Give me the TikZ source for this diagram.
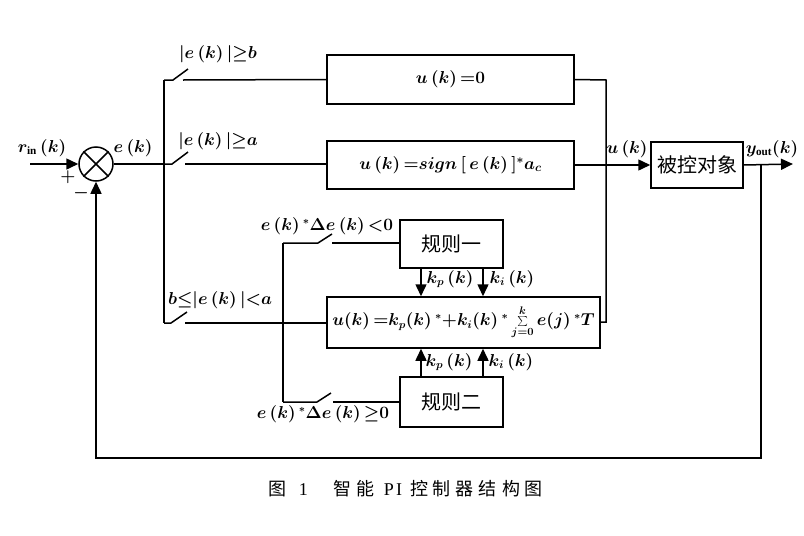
\documentclass[tikz,border=0pt]{standalone}
\usepackage{fontspec}
\setmainfont{Liberation Serif}
\newfontfamily\cjk{Noto Sans CJK SC}
\usetikzlibrary{arrows.meta}
\begin{document}
\begin{tikzpicture}[x=1pt,y=-1pt,
  line width=1.5pt,
  blk/.style={draw,line width=1.5pt,inner sep=0pt},
  lbl/.style={inner sep=0pt,font=\fontsize{16}{18}\selectfont\boldmath},
  cjkl/.style={inner sep=0pt,font=\cjk\fontsize{20}{22}\selectfont},
  arr/.style={-{Triangle[length=12pt,width=11pt]}},
  wire/.style={line width=1.5pt}]
\useasboundingbox (0,0) rectangle (804,536);
% blocks
\node[blk,minimum width=247pt,minimum height=49pt,lbl] (b1) at (450.5,79.5) {$u\,(k)\,{=}0$};
\node[blk,minimum width=247pt,minimum height=48pt,lbl,font=\fontsize{17}{19}\selectfont\boldmath] (b2) at (450.5,165) {$u\,(k)\,{=}sign\,[\,e\,(k)\,]^{*}a_c$};
\node[blk,minimum width=273pt,minimum height=51pt,lbl] (b3) at (463.5,322.5) {$u(k)\,{=}k_p(k)\,^{*}{+}k_i(k)\,^{*}\sum\limits_{j=0}^{k}e(j)\,^{*}T$};
\node[blk,minimum width=103pt,minimum height=48pt,cjkl] (r1) at (451.5,244) {规则一};
\node[blk,minimum width=103pt,minimum height=50pt,cjkl] (r2) at (451.5,402) {规则二};
\node[blk,minimum width=92pt,minimum height=46pt,cjkl] (pl) at (697,165) {被控对象};
\node[draw,circle,minimum size=34pt,inner sep=0pt,line width=1.5pt] (sum) at (96,164) {};
\draw[wire] (sum.north west) -- (sum.south east) (sum.north east) -- (sum.south west);
% coordinates
\coordinate (in) at (30,164);
\coordinate (jn) at (164,164);
\coordinate (bt) at (164,80);
\coordinate (bb) at (164,323);
\coordinate (s1a) at (173,80);  \coordinate (s1b) at (188,69);  \coordinate (s1c) at (183,80);
\coordinate (s2a) at (172,164); \coordinate (s2b) at (188,152); \coordinate (s2c) at (185,164);
\coordinate (s3a) at (171,323); \coordinate (s3b) at (187,312); \coordinate (s3c) at (185,323);
\coordinate (rv1) at (283,243); \coordinate (rv2) at (283,402);
\coordinate (s4a) at (318,243); \coordinate (s4b) at (332,234); \coordinate (s4c) at (332,243);
\coordinate (s5a) at (317,402); \coordinate (s5b) at (331,393); \coordinate (s5c) at (333,402);
\coordinate (c1) at (606,80); \coordinate (c2) at (606,322);
\coordinate (out) at (793,164);
\coordinate (fb) at (761,164); \coordinate (fb1) at (761,458); \coordinate (fb2) at (96,458);
% wires
\draw[arr] (in) -- (sum.west);
\draw[wire] (sum.east) -- (jn);
\draw[wire] (bt) -- (bb);
\draw[wire] (bt) -- (s1a) -- (s1b);
\draw[wire] (s1c) -- (b1.west);
\draw[wire] (jn) -- (s2a) -- (s2b);
\draw[wire] (s2c) -- (b2.west |- s2c);
\draw[wire] (bb) -- (s3a) -- (s3b);
\draw[wire] (s3c) -- (b3.west |- s3c);
\draw[wire] (rv1) -- (rv2);
\draw[wire] (rv1) -- (s4a) -- (s4b);
\draw[wire] (s4c) -- (r1.west |- s4c);
\draw[wire] (rv2) -- (s5a) -- (s5b);
\draw[wire] (s5c) -- (r2.west |- s5c);
\draw[wire] (b1.east) -- (c1) -- (c2) -- (b3.east |- c2);
\draw[arr] (b2.east |- pl.west) -- (pl.west);
\draw[arr] (pl.east) -- (out);
\draw[arr] (fb) -- (fb1) -- (fb2) -- (sum.south);
\draw[arr] (r1.south -| 421,0) -- (b3.north -| 421,0);
\draw[arr] (r1.south -| 483,0) -- (b3.north -| 483,0);
\draw[arr] (r2.north -| 421,0) -- (b3.south -| 421,0);
\draw[arr] (r2.north -| 483,0) -- (b3.south -| 483,0);
% labels
\node[lbl] (l1) at (218,54) {$|e\,(k)\,|{\geq}b$};
\node[lbl] (l2) at (218,141) {$|e\,(k)\,|{\geq}a$};
\node[lbl] (l3) at (220,300) {$b{\leq}|e\,(k)\,|{<}a$};
\node[lbl] (l4) at (327,226) {$e\,(k)\,^{*}\Delta e\,(k)\,{<}0$};
\node[lbl] (l5) at (323,414) {$e\,(k)\,^{*}\Delta e\,(k)\,{\geq}0$};
\node[lbl] (lr) at (42,148) {$r_{\mathrm{in}}\,(k)$};
\node[lbl] (le) at (133,148) {$e\,(k)$};
\node[lbl] (lp) at (68,177) {$+$};
\node[lbl] (lm) at (81,193) {$-$};
\node[lbl] (lu) at (627,149) {$u\,(k)$};
\node[lbl] (ly) at (772,149) {$y_{\mathrm{out}}(k)$};
\node[lbl] (k1) at (450,279) {$k_p\,(k)$};
\node[lbl] (k2) at (512,279) {$k_i\,(k)$};
\node[lbl] (k3) at (449,362) {$k_p\,(k)$};
\node[lbl] (k4) at (511,362) {$k_i\,(k)$};
\node[inner sep=0pt,font=\fontsize{18}{20}\selectfont] (cap) at (406,489) {{\cjk 图}\hspace{12pt}1\hspace{26pt}{\cjk 智\hspace{5pt}能}\hspace{9pt}P\hspace{2pt}I\hspace{8pt}{\cjk 控\hspace{5pt}制\hspace{5pt}器\hspace{5pt}结\hspace{5pt}构\hspace{5pt}图}};
\end{tikzpicture}
\end{document}
